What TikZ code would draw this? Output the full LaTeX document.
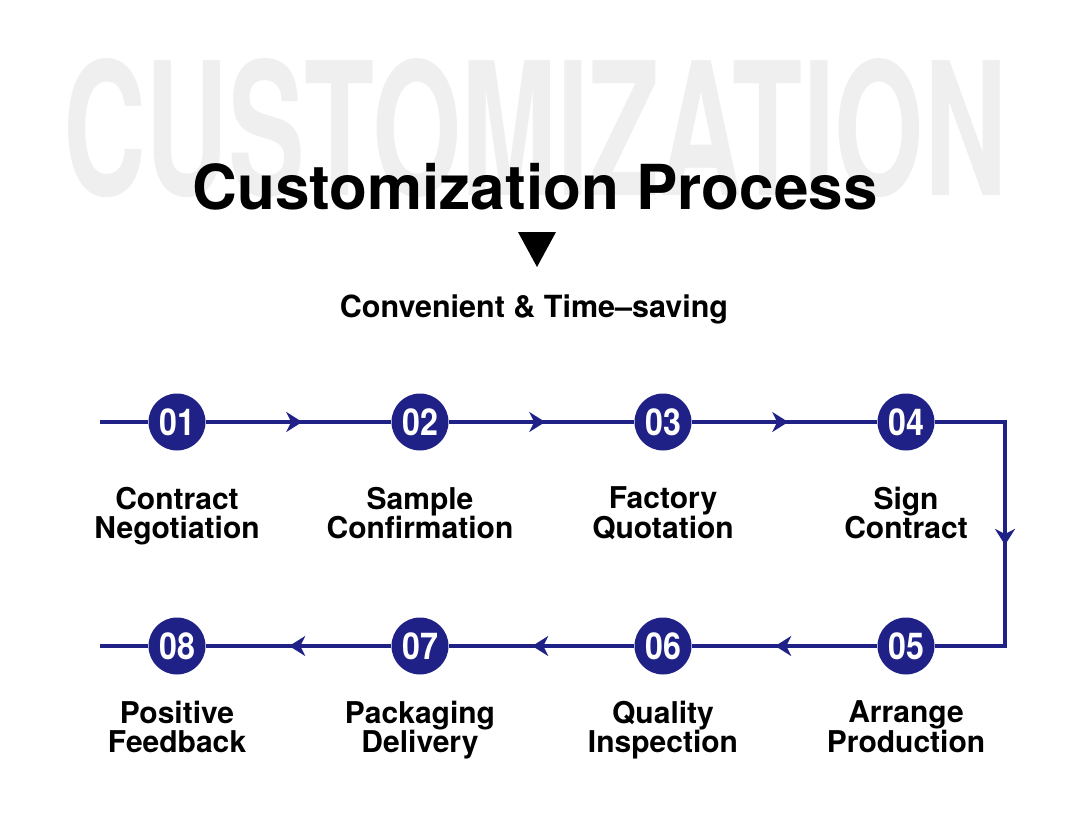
\documentclass[tikz,border=0pt]{standalone}
\usepackage{fontspec}
\setmainfont{TeX Gyre Heros}
\newfontfamily\bgfont[FakeStretch=0.62]{TeX Gyre Heros}
\newfontfamily\numfont[FakeStretch=0.87]{TeX Gyre Heros}
\usetikzlibrary{positioning,arrows.meta,decorations.markings}

\definecolor{navy}{RGB}{31,33,134}
\definecolor{ghost}{RGB}{239,239,239}

\tikzset{
  stepcircle/.style={circle, fill=navy, minimum size=57pt, inner sep=0pt,
    text=white, font=\numfont\bfseries\fontsize{37}{37}\selectfont},
  steplabel/.style={align=center, inner sep=0pt,
    font=\bfseries\fontsize{30}{29.5}\selectfont},
  flow/.style={draw, color=navy, line width=3.2pt},
  midarrow/.style={postaction={decorate}, decoration={markings,
    mark=at position #1 with {\arrow{Stealth[length=16pt,width=20pt,inset=5pt]}}}},
}

\begin{document}
\begin{tikzpicture}[x=1pt,y=-1pt]
    \useasboundingbox (0,0) rectangle (1070,814);

    % big word behind the title
    \node[text=ghost, font=\bgfont\bfseries\fontsize{185}{185}\selectfont] (bg) at (535,128.5) {CUSTOMIZATION};

    \node[anchor=base, font=\bfseries\fontsize{62}{62}\selectfont] (title) at (535,209) {Customization Process};
    \fill (518,232) -- (556,232) -- (537,267) -- cycle;
    \node[anchor=base, font=\bfseries\fontsize{30.5}{30.5}\selectfont] (sub) at (534,317) {Convenient \& Time--saving};

    % steps
    \foreach \i/\x in {1/177,2/420,3/663,4/906}
        \node[stepcircle] (c\i) at (\x,422) {0\i};
    \foreach \i/\x in {5/906,6/663,7/420,8/177}
        \node[stepcircle] (c\i) at (\x,646) {0\i};

    \node[steplabel, below=36pt of c1] (l1) {Contract\\Negotiation};
    \node[steplabel, below=36pt of c2] (l2) {Sample\\Confirmation};
    \node[steplabel, below=36pt of c3] (l3) {Factory\\Quotation};
    \node[steplabel, below=36pt of c4] (l4) {Sign\\Contract};
    \node[steplabel, below=26pt of c5] (l5) {Arrange\\Production};
    \node[steplabel, below=26pt of c6] (l6) {Quality\\Inspection};
    \node[steplabel, below=26pt of c7] (l7) {Packaging\\Delivery};
    \node[steplabel, below=26pt of c8] (l8) {Positive\\Feedback};

    % flow line
    \coordinate (s1) at (100,422);
    \coordinate (k1) at (1005,422);
    \coordinate (k2) at (1005,646);
    \coordinate (e2) at (100,646);

    \draw[flow] (s1) -- (c1);
    \draw[flow, midarrow=0.52] (c1) -- (c2);
    \draw[flow, midarrow=0.52] (c2) -- (c3);
    \draw[flow, midarrow=0.52] (c3) -- (c4);
    \draw[flow, midarrow=0.53] (c4) -- (k1) -- (k2) -- (c5);
    \draw[flow, midarrow=0.55] (c5) -- (c6);
    \draw[flow, midarrow=0.55] (c6) -- (c7);
    \draw[flow, midarrow=0.55] (c7) -- (c8);
    \draw[flow] (c8) -- (e2);
\end{tikzpicture}
\end{document}
